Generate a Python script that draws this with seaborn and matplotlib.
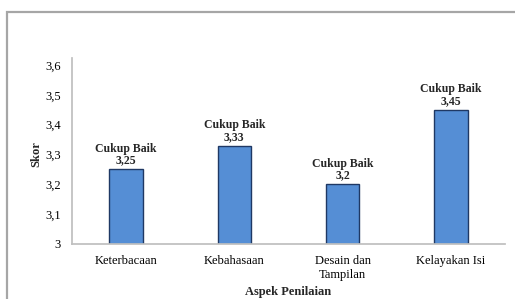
import matplotlib
matplotlib.use("Agg")
import matplotlib.pyplot as plt
import seaborn as sns
import pandas as pd
from matplotlib.patches import Rectangle
from matplotlib.ticker import FuncFormatter

aspek = ["Keterbacaan", "Kebahasaan", "Desain dan\nTampilan", "Kelayakan Isi"]
skor = [3.25, 3.33, 3.2, 3.45]
kategori = ["Cukup Baik", "Cukup Baik", "Cukup Baik", "Cukup Baik"]

sns.set_theme(style="white")
plt.rcParams['font.family'] = ['Liberation Serif', 'DejaVu Serif']

df = pd.DataFrame({"aspek": aspek, "skor": skor})

fig = plt.figure(figsize=(5.15, 2.99), dpi=100)
# outer chart frame like the Excel chart area
fig.patches.append(Rectangle((7 / 515, -0.1), 1.2, 1 - 12 / 299 + 0.1,
                             transform=fig.transFigure, fill=False,
                             edgecolor="#a6a6a6", linewidth=1.6))

ax = fig.add_axes([72 / 515, 1 - 244 / 299, 433 / 515, (244 - 65) / 299])
sns.barplot(data=df, x="aspek", y="skor", color="#558ed5", edgecolor="#1f3864",
            linewidth=1.0, width=0.31, saturation=1, ax=ax)

ax.set_ylim(3, 3.6)
ax.set_xlim(-0.5, 3.5)
ax.set_yticks([3, 3.1, 3.2, 3.3, 3.4, 3.5, 3.6])
ax.yaxis.set_major_formatter(FuncFormatter(lambda v, p: ("%g" % round(v, 2)).replace(".", ",")))
ax.tick_params(axis="both", length=0, labelsize=9, colors="black", pad=8)

for s in ["top", "right"]:
    ax.spines[s].set_visible(False)
ax.spines["left"].set_color("#bfbfbf")
ax.spines["bottom"].set_color("#bfbfbf")
ax.spines["left"].set_bounds(3, 3.625)

ax.set_ylabel("Skor", fontsize=9, fontweight="bold", labelpad=2)
ax.set_xlabel("Aspek Penilaian", fontsize=9, fontweight="bold", labelpad=4)

for i, (v, k) in enumerate(zip(skor, kategori)):
    ax.annotate(k + "\n" + ("%g" % v).replace(".", ","), (i, v), xytext=(0, 2),
                textcoords="offset points", ha="center", va="bottom",
                fontsize=8.5, fontweight="bold", linespacing=0.95)

fig.savefig("out.png", dpi=100)
